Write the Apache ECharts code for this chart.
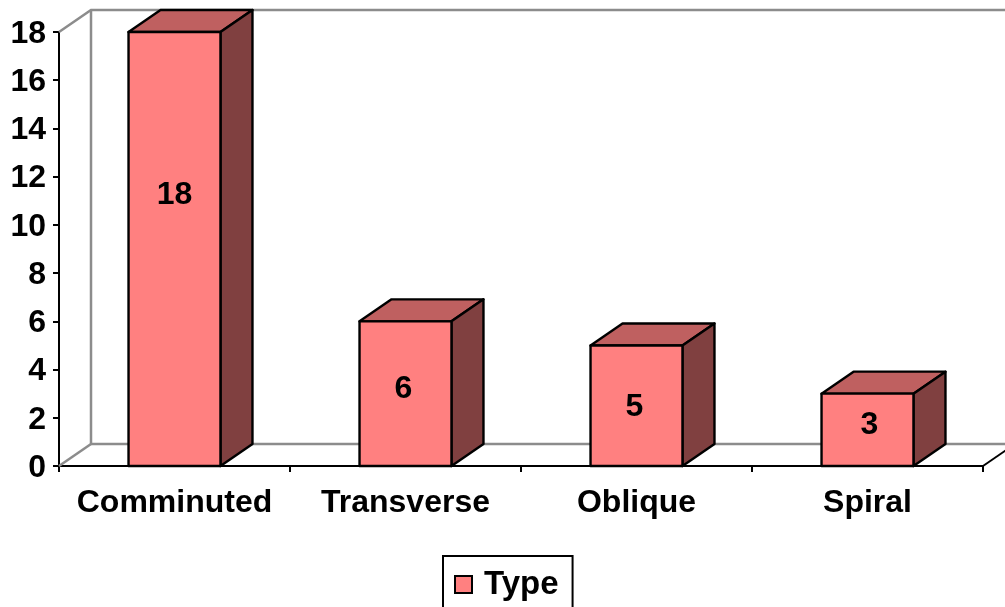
<!DOCTYPE html>
<html>
<head>
<meta charset="utf-8">
<style>html,body{margin:0;padding:0;background:#fff;overflow:hidden}#chart{width:1005px;height:607px}</style>
<script src="https://cdn.jsdelivr.net/npm/echarts@6/dist/echarts.min.js"></script>
</head>
<body>
<div id="chart"></div>
<script>
// Fracture counts by type
const categories = ['Comminuted', 'Transverse', 'Oblique', 'Spiral'];
const typeCounts = [18, 6, 5, 3];
const seriesName = 'Type';
const axisMax = 18;
const axisStep = 2;

// Pseudo-3D styling: how far the box sides recede, and face colours
const depthX = 32;
const depthY = -22;
const barShare = 0.398;
const faceColor = '#FF8080';
const topColor = '#BF6060';
const sideColor = '#804040';
const wallColor = '#8C8C8C';
const fontFamily = '"Liberation Sans", Arial, sans-serif';
const fontSize = 32;
// Value labels are nudged away from the centre of each bar
const labelLift = [56, 6, 1, 7];
const labelShift = [0, -2, -2, 2];

const chart = echarts.init(document.getElementById('chart'), null, { renderer: 'canvas' });

function poly(points, fill, stroke, width) {
  return {
    type: 'polygon',
    shape: { points: points },
    style: { fill: fill, stroke: stroke, lineWidth: width, lineJoin: 'round' }
  };
}
function line(points, stroke, width) {
  return {
    type: 'polyline',
    shape: { points: points },
    style: { fill: 'none', stroke: stroke, lineWidth: width }
  };
}

// Back wall and floor, anchored to the axis corners
function renderWalls(params, api) {
  const band = api.size([1, 0])[0];
  const first = api.coord([0, 0]);
  const top = api.coord([0, axisMax]);
  const left = first[0] - band / 2;
  const right = left + band * categories.length;
  const base = first[1];
  const ceil = top[1];
  return {
    type: 'group',
    silent: true,
    children: [
      line([[left, ceil], [left + depthX, ceil + depthY], [right + depthX * 2, ceil + depthY]], wallColor, 2.5),
      line([[left + depthX, ceil + depthY], [left + depthX, base + depthY], [right + depthX * 2, base + depthY]], wallColor, 2.5),
      line([[left, base], [left + depthX, base + depthY]], wallColor, 2.5),
      line([[right, base], [right + depthX, base + depthY]], '#000', 2)
    ]
  };
}

// One box per category: front face, top and right side
function renderBox(params, api) {
  const idx = api.value(0);
  const val = api.value(1);
  const band = api.size([1, 0])[0];
  const w = band * barShare;
  const p = api.coord([idx, val]);
  const b = api.coord([idx, 0]);
  const x0 = p[0] - w / 2;
  const x1 = p[0] + w / 2;
  const yT = p[1];
  const yB = b[1];
  const dx = depthX;
  const dy = depthY;
  return {
    type: 'group',
    children: [
      poly([[x0, yT], [x0 + dx, yT + dy], [x1 + dx, yT + dy], [x1, yT]], topColor, '#000', 2.4),
      poly([[x1, yT], [x1 + dx, yT + dy], [x1 + dx, yB + dy], [x1, yB]], sideColor, '#000', 2.4),
      poly([[x0, yT], [x1, yT], [x1, yB], [x0, yB]], faceColor, '#000', 2.4),
      {
        type: 'text',
        style: {
          x: p[0] + labelShift[params.dataIndex],
          y: (yT + yB) / 2 - labelLift[params.dataIndex] + 2,
          text: String(val),
          fill: '#000',
          font: 'bold ' + fontSize + 'px ' + fontFamily,
          align: 'center',
          verticalAlign: 'middle'
        }
      }
    ]
  };
}

chart.setOption({
  animation: false,
  backgroundColor: '#fff',
  grid: { left: 59, right: 22, top: 32, height: 434, containLabel: false },
  tooltip: { show: false },
  legend: {
    data: [{ name: seriesName, icon: 'rect', itemStyle: { color: faceColor, borderColor: '#000', borderWidth: 2 } }],
    left: 443,
    top: 556,
    itemWidth: 17,
    itemHeight: 17,
    itemGap: 0,
    selectedMode: false,
    borderColor: '#000',
    borderWidth: 2,
    borderRadius: 0,
    backgroundColor: '#fff',
    padding: [12, 14, 22, 11],
    textStyle: { color: '#000', fontFamily: fontFamily, fontWeight: 'bold', fontSize: 33, padding: [0, 0, 0, 7] }
  },
  xAxis: {
    type: 'category',
    data: categories,
    boundaryGap: true,
    axisLine: { lineStyle: { color: '#000', width: 2 } },
    axisTick: { show: true, alignWithLabel: false, length: 6, lineStyle: { color: '#000', width: 2 } },
    axisLabel: { color: '#000', fontFamily: fontFamily, fontWeight: 'bold', fontSize: fontSize, margin: 21, interval: 0 },
    splitLine: { show: false }
  },
  yAxis: {
    type: 'value',
    min: 0,
    max: axisMax,
    interval: axisStep,
    axisLine: { show: true, lineStyle: { color: '#000', width: 2 } },
    axisTick: { show: true, length: 6, lineStyle: { color: '#000', width: 2 } },
    axisLabel: { color: '#000', fontFamily: fontFamily, fontWeight: 'bold', fontSize: fontSize, margin: 13, verticalAlign: 'top', lineHeight: 4 },
    splitLine: { show: false }
  },
  series: [
    {
      name: 'walls',
      type: 'custom',
      renderItem: renderWalls,
      data: [[0, 0]],
      encode: { x: 0, y: 1 },
      silent: true,
      clip: false,
      z: 1
    },
    {
      name: seriesName,
      type: 'custom',
      renderItem: renderBox,
      data: typeCounts.map((v, i) => [i, v]),
      encode: { x: 0, y: 1 },
      itemStyle: { color: faceColor },
      clip: false,
      z: 3
    }
  ]
});
</script>
</body>
</html>
